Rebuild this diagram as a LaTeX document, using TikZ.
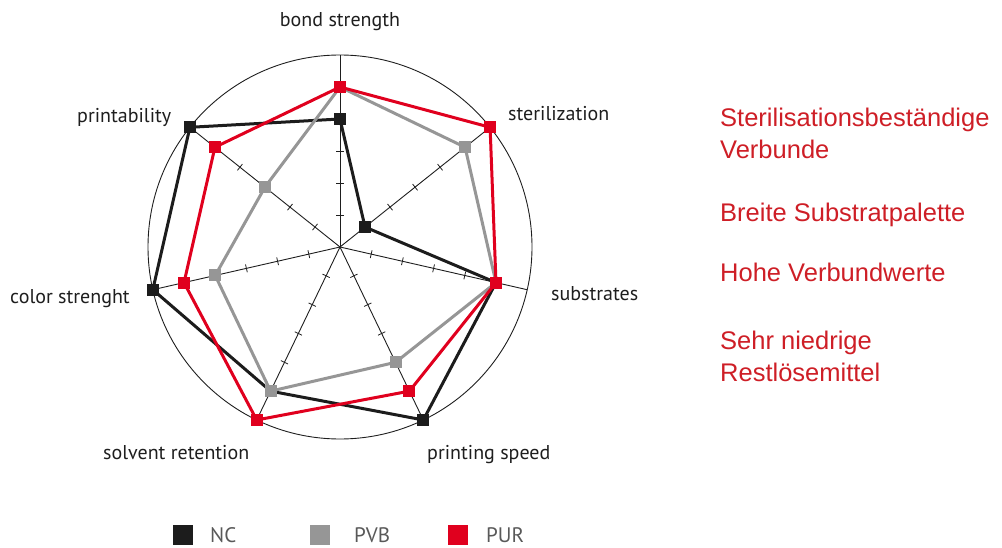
\documentclass[tikz,border=0pt]{standalone}
\usepackage{fontspec}
\setmainfont{PT Sans}
\newfontfamily\notefamily{Liberation Sans}
\usetikzlibrary{positioning}
\definecolor{ncblack}{RGB}{28,28,28}
\definecolor{pvbgray}{RGB}{150,150,150}
\definecolor{purred}{RGB}{224,0,30}
\definecolor{notered}{RGB}{206,30,38}
\definecolor{labelgray}{RGB}{30,30,30}

\begin{document}
\begin{tikzpicture}[x=1pt, y=1pt,
    axisline/.style = {draw=labelgray, line width=0.9pt},
    tickline/.style = {draw=labelgray, line width=0.8pt},
    axislabel/.style = {font=\fontsize{20}{22}\selectfont, text=labelgray, inner sep=0pt},
    ncline/.style = {draw=ncblack, line width=3pt, line join=round},
    pvbline/.style = {draw=pvbgray, line width=3pt, line join=round},
    purline/.style = {draw=purred, line width=3pt, line join=round},
    ncdot/.style = {fill=ncblack, minimum size=12pt, inner sep=0pt},
    pvbdot/.style = {fill=pvbgray, minimum size=12pt, inner sep=0pt},
    purdot/.style = {fill=purred, minimum size=12pt, inner sep=0pt},
    legendbox/.style = {minimum size=20pt, inner sep=0pt},
    legendtext/.style = {font=\fontsize{21}{24}\selectfont, text=black!65, inner sep=0pt, anchor=west},
    note/.style = {font=\notefamily\fontsize{25.5}{32}\selectfont, text=notered, align=left, anchor=north west, inner sep=0pt}]
    \useasboundingbox (0,0) rectangle (1002,-548);

    % radar chart
    \begin{scope}[shift={(340,-247)}]
        \coordinate (O) at (0,0);
        \draw[axisline] (O) circle (192);
        \foreach \k in {0,...,6} {
            \pgfmathsetmacro\ang{90-\k*360/7}
            \draw[axisline] (O) -- (\ang:192) coordinate (end\k);
            \foreach \t in {1,...,5}
                \draw[tickline, rotate=\ang] (\t*32,-4) -- (\t*32,4);
        }
        % values: axis / NC / PVB / PUR
        \foreach \k/\nc/\pvb/\pur in {0/4/5/5, 1/1/5/6, 2/5/5/5, 3/6/4/5, 4/5/5/6, 5/6/4/5, 6/6/3/5} {
            \pgfmathsetmacro\ang{90-\k*360/7}
            \coordinate (nc\k) at (\ang:\nc*32);
            \coordinate (pvb\k) at (\ang:\pvb*32);
            \coordinate (pur\k) at (\ang:\pur*32);
        }
        \draw[ncline] (nc0) -- (nc1) -- (nc2) -- (nc3) -- (nc4) -- (nc5) -- (nc6) -- cycle;
        \foreach \k in {0,...,6}
            \node[ncdot] (ncm\k) at (nc\k) {};
        \draw[pvbline] (pvb0) -- (pvb1) -- (pvb2) -- (pvb3) -- (pvb4) -- (pvb5) -- (pvb6) -- cycle;
        \foreach \k in {0,...,6}
            \node[pvbdot] (pvbm\k) at (pvb\k) {};
        \draw[purline] (pur0) -- (pur1) -- (pur2) -- (pur3) -- (pur4) -- (pur5) -- (pur6) -- cycle;
        \foreach \k in {0,...,6}
            \node[purdot] (purm\k) at (pur\k) {};
    \end{scope}

    % axis labels
    \node[axislabel, anchor=base] (bond) at (340,-27) {bond strength};
    \node[axislabel, anchor=base west] (steril) at (508,-121) {sterilization};
    \node[axislabel, anchor=base west] (subst) at (551,-301) {substrates};
    \node[axislabel, anchor=base west] (speed) at (427,-459) {printing speed};
    \node[axislabel, anchor=base west] (solvent) at (103,-459) {solvent retention};
    \node[axislabel, anchor=base west] (color) at (10,-304) {color strenght};
    \node[axislabel, anchor=base west] (print) at (77,-123) {printability};

    % legend
    \node[legendbox, fill=ncblack] (ncbox) at (183,-535) {};
    \node[legendtext] (nctext) at (210,-535) {NC};
    \node[legendbox, fill=pvbgray] (pvbbox) at (320,-535) {};
    \node[legendtext] (pvbtext) at (354,-535) {PVB};
    \node[legendbox, fill=purred] (purbox) at (458,-535) {};
    \node[legendtext] (purtext) at (486,-535) {PUR};

    % notes
    \node[note] (note1) at (720,-108) {Sterilisationsbeständige\\Verbunde};
    \node[note] (note2) at (720,-203) {Breite Substratpalette};
    \node[note] (note3) at (720,-263) {Hohe Verbundwerte};
    \node[note] (note4) at (720,-331) {Sehr niedrige\\Restlösemittel};
\end{tikzpicture}
\end{document}
